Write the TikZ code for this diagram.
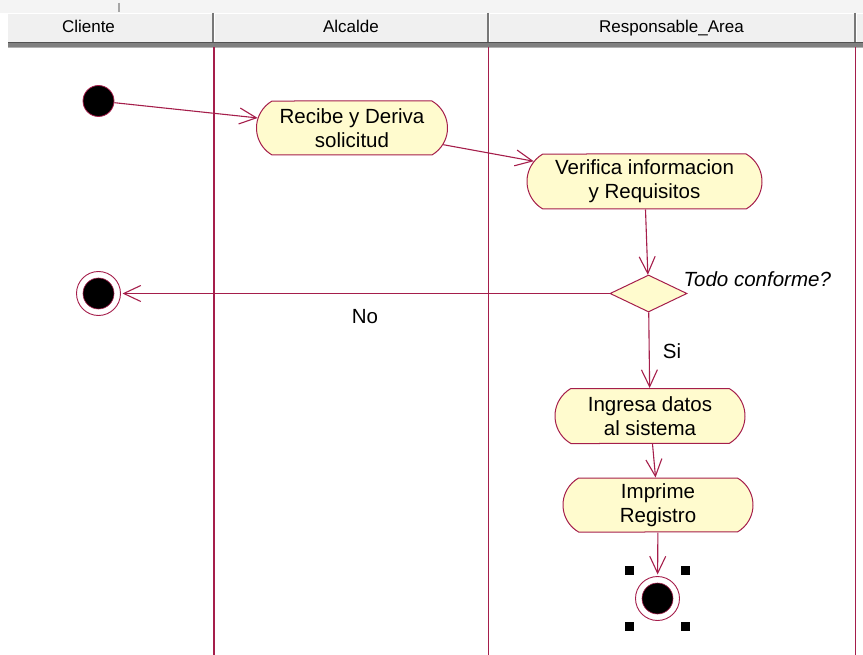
\documentclass[tikz,border=0pt]{standalone}
\usepackage{fontspec}
\setmainfont{Liberation Sans}
\usetikzlibrary{arrows.meta,shapes.misc,shapes.geometric}
\definecolor{umlline}{RGB}{165,30,75}
\definecolor{umlfill}{RGB}{255,251,206}
\definecolor{hdrfill}{RGB}{240,240,240}
\definecolor{hdrtop}{RGB}{244,244,244}
\definecolor{hdrdark}{RGB}{120,120,120}

\begin{document}
\begin{tikzpicture}[x=1pt,y=-1pt,
  action/.style={rounded rectangle, rounded rectangle arc length=120,
    draw=umlline, fill=umlfill, line width=1pt, minimum width=#1,
    minimum height=54pt, inner sep=0pt, align=center,
    font=\fontsize{20.5}{24}\selectfont},
  decision/.style={diamond, draw=umlline, fill=umlfill, line width=1pt,
    minimum width=77pt, minimum height=37pt, inner sep=0pt},
  startnode/.style={circle, draw=umlline, fill=black, line width=.8pt,
    minimum size=31pt, inner sep=0pt},
  finalnode/.style={circle, draw=umlline, fill=white, line width=.9pt,
    minimum size=44pt, inner sep=0pt, outer sep=2pt,
    path picture={\fill[black] (path picture bounding box.center) circle (15.5pt);
      \draw[umlline, line width=.6pt] (path picture bounding box.center) circle (15.5pt);}},
  flow/.style={draw=umlline, line width=1.1pt,
    -{Straight Barb[length=17pt,width=16pt]}},
  lane/.style={draw=umlline, line width=1.6pt},
  lanetitle/.style={anchor=base, font=\fontsize{17}{20}\selectfont},
  guard/.style={anchor=base, font=\fontsize{20.5}{24}\selectfont},
  handle/.style={rectangle, fill=black, minimum size=8.5pt, inner sep=0pt}
]
\useasboundingbox (0,0) rectangle (863,655);

% swimlane header bar
\fill[hdrtop] (0,0) rectangle (863,13);
\draw[black!35, line width=1.2pt] (119,3) -- (119,12);
\fill[hdrfill] (8,13) rectangle (863,42);
\draw[white, line width=1pt] (8,13.5) -- (863,13.5);
\foreach \sx in {213,488,855} {
  \draw[hdrdark, line width=2pt] (\sx,13) -- (\sx,42);
  \draw[white, line width=1pt] (\sx+1.8,14) -- (\sx+1.8,42);
}
\fill[black!50] (8,42) rectangle (863,47.5);
\draw[black!68, line width=1.5pt] (8,42.75) -- (863,42.75);
\draw[black!30, line width=.8pt] (8,47) -- (863,47);

\node[lanetitle] (tcli) at (88.5,33) {Cliente};
\node[lanetitle] (talc) at (351,33) {Alcalde};
\node[lanetitle] (tres) at (671.5,33) {Responsable\_Area};

% swimlane separators
\draw[lane] (214,47.5) -- (214,655);
\draw[lane] (488.5,47.5) -- (488.5,655);
\draw[lane] (855.5,47.5) -- (855.5,655);

% activity nodes
\node[startnode] (start) at (98.5,101) {};
\node[action=191pt] (a1) at (352,128) {Recibe y Deriva\\solicitud};
\node[action=235pt, minimum height=55pt] (a2) at (644.5,181.5) {Verifica informacion\\y Requisitos};
\node[decision] (dec) at (648.5,293.5) {};
\node[finalnode] (fin1) at (98.5,293.5) {};
\node[action=190pt, minimum height=55pt] (a3) at (650,416) {Ingresa datos\\al sistema};
\node[action=190pt] (a4) at (658,505) {Imprime\\Registro};
\node[finalnode] (fin2) at (657.5,598.5) {};

% selection handles around the final state
\node[handle] (h1) at ([shift={(-28pt,28pt)}]fin2.center) {};
\node[handle] (h2) at ([shift={(28pt,28pt)}]fin2.center) {};
\node[handle] (h3) at ([shift={(-28pt,-28pt)}]fin2.center) {};
\node[handle] (h4) at ([shift={(28pt,-28pt)}]fin2.center) {};

% transitions
\draw[flow] (start) -- (a1);
\draw[flow] (a1) -- (a2);
\draw[flow] (a2) -- (dec);
\draw[flow] (dec) -- (fin1);
\draw[flow] (dec) -- (a3);
\draw[flow] (a3) -- (a4);
\draw[flow] (a4) -- (fin2);

% guards and decision label
\node[anchor=base west, font=\fontsize{20.5}{24}\selectfont\itshape] (q) at (680,287) {Todo conforme?};
\node[guard] (gno) at (365,324) {No};
\node[guard] (gsi) at (672,359) {Si};
\end{tikzpicture}
\end{document}
